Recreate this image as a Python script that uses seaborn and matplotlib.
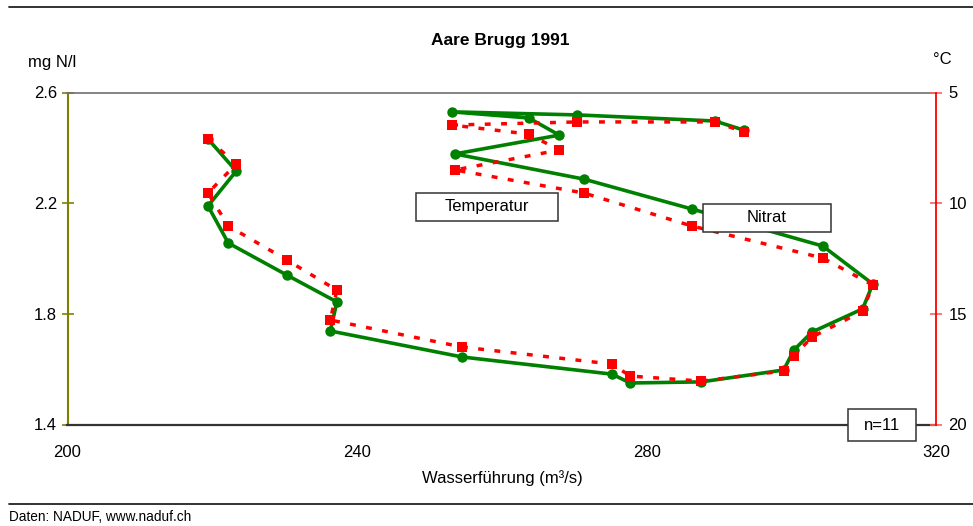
import matplotlib
matplotlib.use("Agg")
import numpy as np
import pandas as pd
import matplotlib.pyplot as plt
import seaborn as sns
from matplotlib.patches import Rectangle
from matplotlib.lines import Line2D

# ===================== DATA (Halbmonatswerte 1991) =====================
flow = [219.4, 223.3, 219.4, 222.2, 230.3, 237.2, 236.3, 254.5, 275.2, 277.7,
        287.5, 298.9, 300.3, 302.8, 309.8, 311.2, 304.3, 286.2, 271.3, 253.5,
        267.9, 263.7, 253.1, 270.4, 289.4, 293.4]
nitrat = [2.432, 2.316, 2.190, 2.056, 1.940, 1.843, 1.738, 1.644, 1.582, 1.550,
          1.554, 1.597, 1.669, 1.734, 1.818, 1.908, 2.045, 2.179, 2.287, 2.378,
          2.446, 2.508, 2.530, 2.519, 2.497, 2.464]
temperatur = [7.10, 8.23, 9.54, 11.03, 12.57, 13.93, 15.28, 16.50, 17.27, 17.81,
              18.04, 17.58, 16.90, 16.05, 14.88, 13.70, 12.48, 11.03, 9.54, 8.50,
              7.60, 6.88, 6.47, 6.33, 6.33, 6.78]

x_ticks = [200, 240, 280, 320]
n_ticks = [1.4, 1.8, 2.2, 2.6]
t_ticks = [5, 10, 15, 20]

df = pd.DataFrame({"flow": flow, "nitrat": nitrat, "temp": temperatur})

W, H = 973, 526
sns.set_style("white")
plt.rcParams["font.family"] = ["Liberation Sans", "DejaVu Sans"]
plt.rcParams["text.color"] = "black"
plt.rcParams["axes.labelcolor"] = "black"
plt.rcParams["xtick.labelcolor"] = "black"
plt.rcParams["ytick.labelcolor"] = "black"

fig = plt.figure(figsize=(W / 100, H / 100), dpi=100)
ax = fig.add_axes([67.5 / W, 1 - 424.5 / H, 869 / W, 332 / H])

# Nitrat (linke Achse)
sns.lineplot(data=df, x="flow", y="nitrat", sort=False, estimator=None,
             color="#008000", linewidth=2.6, marker="o", markersize=7.5,
             markeredgewidth=0, ax=ax)
ax.set_xlim(200, 320)
ax.set_ylim(1.4, 2.6)
ax.set_xticks(x_ticks)
ax.set_yticks(n_ticks)
ax.set_yticklabels([f"{v:.1f}" for v in n_ticks])
ax.set_ylabel("")
ax.set_xlabel("Wasserführung (m³/s)", fontsize=12, labelpad=7)

# Temperatur (rechte Achse, invertiert)
ax2 = ax.twinx()
sns.lineplot(data=df, x="flow", y="temp", sort=False, estimator=None,
             color="#ff0000", linewidth=2.5, linestyle=(0, (1.7, 3.0)),
             marker="s", markersize=7, markeredgewidth=0, ax=ax2)
ax2.set_ylim(20, 5)
ax2.set_yticks(t_ticks)
ax2.set_ylabel("")

# ===================== ACHSEN =====================
for s in ["left", "top", "bottom"]:
    ax2.spines[s].set_visible(False)
ax.spines["right"].set_visible(False)
ax.spines["left"].set_color("#808000")
ax.spines["left"].set_linewidth(1.5)
ax.spines["top"].set_color("#707070")
ax.spines["top"].set_linewidth(1.2)
ax.spines["bottom"].set_color("#333333")
ax.spines["bottom"].set_linewidth(1.6)
ax2.spines["right"].set_color("#ff0000")
ax2.spines["right"].set_linewidth(1.3)

ax.tick_params(axis="y", direction="inout", length=9, width=1.2,
               color="#808000", labelsize=12, pad=3)
ax.tick_params(axis="x", direction="inout", length=12, width=0.8,
               color="#222222", labelsize=12, pad=9)
ax2.tick_params(axis="y", direction="inout", length=9, width=1.2,
                color="#ff6060", labelsize=12, pad=4)

# ===================== TEXTE =====================
def px(x, y):
    return x / W, 1 - y / H

fig.text(*px(500, 40), "Aare Brugg 1991", ha="center", va="center",
         fontsize=12.5, fontweight="bold")
fig.text(*px(28, 62), "mg N/l", ha="left", va="center", fontsize=12)
fig.text(*px(933, 60), "°C", ha="left", va="center", fontsize=12)
fig.text(*px(9, 517), "Daten: NADUF, www.naduf.ch", ha="left", va="center",
         fontsize=9.8)

def box(x0, y0, x1, y1, label):
    fx0, fy1 = px(x0, y1)
    fig.add_artist(Rectangle((fx0, fy1), (x1 - x0) / W, (y1 - y0) / H,
                             transform=fig.transFigure, facecolor="white",
                             edgecolor="#333333", linewidth=1.1, zorder=5))
    fig.text(*px((x0 + x1) / 2, (y0 + y1) / 2), label, ha="center",
             va="center", fontsize=12, zorder=6)

box(416, 193, 558, 221, "Temperatur")
box(703, 204, 831, 232, "Nitrat")
box(848, 409, 916, 441, "n=11")

# Trennlinien oben / unten
fig.add_artist(Line2D([9 / W, 1], [1 - 7 / H] * 2, color="#222222", lw=1.3))
fig.add_artist(Line2D([9 / W, 1], [1 - 504 / H] * 2, color="#222222", lw=1.3))

fig.savefig("out.png", dpi=100)
